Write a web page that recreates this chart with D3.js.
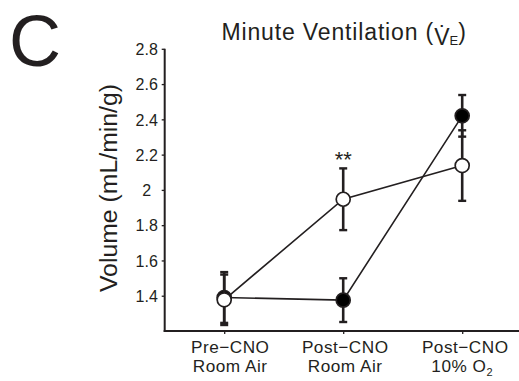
<!DOCTYPE html>
<html>
<head>
<meta charset="utf-8">
<script src="https://cdn.jsdelivr.net/npm/d3@7/dist/d3.min.js"></script>
<style>
  html, body { margin: 0; padding: 0; background: #fff; }
  svg { display: block; font-family: "Liberation Sans", Arial, Helvetica, sans-serif; }
</style>
</head>
<body>
<svg id="chart" width="519" height="381"></svg>
<script>
// Conditions along the x axis (two text lines each, optional subscript on line 2)
const conditionLine1 = ["Pre\u2212CNO", "Post\u2212CNO", "Post\u2212CNO"];
const conditionLine2 = ["Room Air", "Room Air", "10% O"];
const conditionSub = ["", "", "2"];
const conditionIndex = [1, 2, 3];

// Mean minute ventilation (mL/min/g) with SEM, filled and open groups
const filledMean = [1.39, 1.375, 2.42];
const filledErr = [0.144, 0.124, 0.118];
const openMean = [1.377, 1.947, 2.138];
const openErr = [0.143, 0.175, 0.2];

// Significance marker above the open group
const sigCondition = 2;
const sigLabel = "**";

// Y axis ticks
const yTicks = [1.4, 1.6, 1.8, 2, 2.2, 2.4, 2.6, 2.8];
const yTickLabels = ["1.4", "1.6", "1.8", "2", "2.2", "2.4", "2.6", "2.8"];

const ink = "#231f20";
const svg = d3.select("#chart");

const x = d3.scaleLinear().domain([0.5, 3.5]).range([164.7, 521.7]);
const y = d3.scaleLinear().domain([1.2, 2.8]).range([331, 48.8]);

// Panel letter
svg.append("text")
  .attr("x", 9).attr("y", 65.5)
  .attr("font-size", 72).attr("letter-spacing", 0).attr("fill", ink)
  .attr("transform", "translate(0,0)")
  .text("C");

// Title with dotted V and subscript E
const title = svg.append("text")
  .attr("x", 221.5).attr("y", 40)
  .attr("font-size", 23).attr("fill", ink);
title.append("tspan").attr("letter-spacing", 0.85).text("Minute Ventilation (");
title.append("tspan").attr("dy", 5).text("V\u0307");
title.append("tspan").attr("font-size", 13).text("E");
title.append("tspan").attr("dy", -5).text(")");

// Y axis
const yAxis = d3.axisLeft(y)
  .tickValues(yTicks)
  .tickFormat((d, i) => yTickLabels[i])
  .tickSize(3)
  .tickSizeOuter(0);
const gy = svg.append("g").attr("transform", "translate(164.7,0)").call(yAxis);
gy.select(".domain").remove();
gy.selectAll(".tick line").attr("stroke", ink).attr("stroke-width", 1.3);
gy.selectAll(".tick text")
  .attr("x", -18).attr("text-anchor", "middle").attr("dy", "0.36em")
  .attr("font-size", 16).attr("fill", ink)
  .attr("font-family", "Liberation Sans, Arial, sans-serif");
svg.append("line")
  .attr("x1", 164.7).attr("x2", 164.7)
  .attr("y1", y(2.8)).attr("y2", y(1.2) + 1)
  .attr("stroke", ink).attr("stroke-width", 2);

// X axis
const xAxis = d3.axisBottom(x)
  .tickValues(conditionIndex)
  .tickFormat("")
  .tickSize(3)
  .tickSizeOuter(0);
const gx = svg.append("g").attr("transform", `translate(0,${y(1.2)})`).call(xAxis);
gx.select(".domain").remove();
gx.selectAll(".tick line").attr("stroke", ink).attr("stroke-width", 1.3);
svg.append("line")
  .attr("x1", 163.7).attr("x2", 519)
  .attr("y1", y(1.2)).attr("y2", y(1.2))
  .attr("stroke", ink).attr("stroke-width", 2);

// Category labels, one text element per line
const labelShift = [6, 2, 3];
conditionIndex.forEach((c, i) => {
  svg.append("text")
    .attr("text-anchor", "middle")
    .attr("font-size", 17.2).attr("letter-spacing", 0.5).attr("fill", ink)
    .attr("x", x(c) + labelShift[i]).attr("y", 352.8)
    .text(conditionLine1[i]);
  const l2 = svg.append("text")
    .attr("text-anchor", "middle")
    .attr("font-size", 17.2).attr("letter-spacing", 0.5).attr("fill", ink)
    .attr("x", x(c) + labelShift[i] + (conditionSub[i] ? -3 : 0)).attr("y", 372.3);
  l2.append("tspan").text(conditionLine2[i]);
  if (conditionSub[i]) {
    l2.append("tspan").attr("font-size", 11).attr("dy", 4).text(conditionSub[i]);
  }
});

// One group: connecting line, error bars, markers
function drawGroup(means, errs, fill) {
  const pts = conditionIndex.map((c, i) => ({ c, m: means[i], e: errs[i] }));
  const g = svg.append("g");
  g.append("path")
    .datum(pts)
    .attr("fill", "none").attr("stroke", ink).attr("stroke-width", 1.6)
    .attr("d", d3.line().x(d => x(d.c)).y(d => y(d.m)));
  const eb = g.selectAll(".eb").data(pts).join("g");
  eb.append("line")
    .attr("x1", d => x(d.c)).attr("x2", d => x(d.c))
    .attr("y1", d => y(d.m + d.e)).attr("y2", d => y(d.m - d.e))
    .attr("stroke", ink).attr("stroke-width", 2.6);
  [1, -1].forEach(s => {
    eb.append("line")
      .attr("x1", d => x(d.c) - 4).attr("x2", d => x(d.c) + 4)
      .attr("y1", d => y(d.m + s * d.e)).attr("y2", d => y(d.m + s * d.e))
      .attr("stroke", ink).attr("stroke-width", 2.4);
  });
  g.selectAll("circle").data(pts).join("circle")
    .attr("cx", d => x(d.c)).attr("cy", d => y(d.m))
    .attr("r", 7)
    .attr("fill", fill).attr("stroke", ink).attr("stroke-width", 1.7);
}

drawGroup(filledMean, filledErr, "#000");
drawGroup(openMean, openErr, "#fff");

// Significance marker
const si = conditionIndex.indexOf(sigCondition);
svg.append("text")
  .attr("x", x(sigCondition)).attr("y", y(openMean[si] + openErr[si]) - 1.5)
  .attr("text-anchor", "middle")
  .attr("font-size", 22).attr("fill", ink)
  .text(sigLabel);

// Y axis title
svg.append("text")
  .attr("transform", "translate(116.7,188) rotate(-90)")
  .attr("text-anchor", "middle")
  .attr("font-size", 24.8).attr("fill", ink)
  .text("Volume (mL/min/g)");
</script>
</body>
</html>
